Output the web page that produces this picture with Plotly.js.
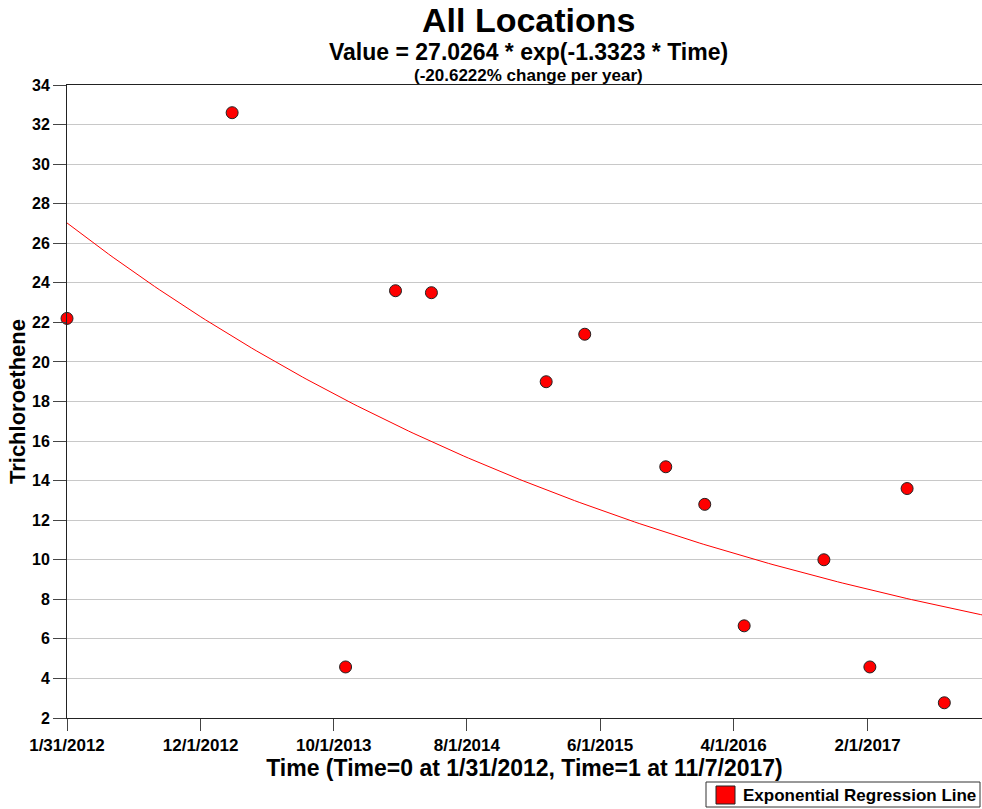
<!DOCTYPE html>
<html>
<head>
<meta charset="utf-8">
<script src="https://cdn.plot.ly/plotly-3.0.1.min.js"></script>
<style>
  html, body { margin: 0; padding: 0; background: #fff; }
  #chart { width: 982px; height: 809px; }
</style>
</head>
<body>
<div id="chart"></div>
<script>
// Sample dates and Trichloroethene results
const sampleDates = [
  '2012-01-31', '2013-02-11', '2013-10-28', '2014-02-19', '2014-05-12',
  '2015-01-29', '2015-04-27', '2015-10-29', '2016-01-26', '2016-04-25',
  '2016-10-24', '2017-02-06', '2017-05-02', '2017-07-26'
];
const sampleValues = [
  22.2, 32.6, 4.58, 23.6, 23.5,
  19.0, 21.4, 14.7, 12.8, 6.66,
  10.0, 4.58, 13.6, 2.77
];

// Regression model: Value = A * exp(B * Time), Time in [0,1]
const timeStart = '2012-01-31';
const timeEnd = '2017-11-07';
const coefA = 27.0264;
const coefB = -1.3323;

// Axis ticks
const xTickDates = ['2012-01-31', '2012-12-01', '2013-10-01', '2014-08-01', '2015-06-01', '2016-04-01', '2017-02-01'];
const xTickLabels = ['1/31/2012', '12/1/2012', '10/1/2013', '8/1/2014', '6/1/2015', '4/1/2016', '2/1/2017'];
const yTickValues = [2, 4, 6, 8, 10, 12, 14, 16, 18, 20, 22, 24, 26, 28, 30, 32, 34];

const legendLabel = 'Exponential Regression Line';

// Regression curve sampled over the Time span
const t0 = Date.parse(timeStart + 'T00:00:00Z');
const t1 = Date.parse(timeEnd + 'T00:00:00Z');
const curveX = [];
const curveY = [];
const steps = 200;
for (let i = 0; i <= steps; i++) {
  const t = i / steps;
  const iso = new Date(t0 + t * (t1 - t0)).toISOString();
  curveX.push(iso.slice(0, 10) + ' ' + iso.slice(11, 19));
  curveY.push(coefA * Math.exp(coefB * t));
}

const FONT = 'Liberation Sans, Arial, sans-serif';

// plot-area geometry (pixels) used to place the legend box below the axes
const W = 982, H = 809;
const M = { l: 67, r: 0, t: 85, b: 91 };
const plotW = W - M.l - M.r;
const plotH = H - M.t - M.b;
const px = v => (v - M.l) / plotW;
const py = v => (H - M.b - v) / plotH;

const traces = [
  {
    x: curveX, y: curveY, type: 'scatter', mode: 'lines',
    line: { color: '#ff0000', width: 1 },
    showlegend: false, hoverinfo: 'skip'
  },
  {
    x: sampleDates, y: sampleValues, type: 'scatter', mode: 'markers',
    marker: { color: '#ff0000', size: 12, line: { color: '#222', width: 1 } },
    showlegend: false, cliponaxis: false
  }
];

const layout = {
  width: W, height: H,
  margin: { l: M.l, r: M.r, t: M.t, b: M.b, autoexpand: false },
  paper_bgcolor: '#fff', plot_bgcolor: '#fff',
  font: { family: FONT, color: '#000' },
  showlegend: false,
  xaxis: {
    type: 'date',
    range: ['2012-01-31', '2017-10-20'],
    tickvals: xTickDates, ticktext: xTickLabels,
    tickfont: { family: FONT, size: 17, weight: 'bold' },
    ticks: 'outside', ticklen: 12, tickcolor: '#444', tickwidth: 1,
    showgrid: false, zeroline: false,
    showline: true, linecolor: '#222', linewidth: 1, mirror: true,
    title: { text: 'Time (Time=0 at 1/31/2012, Time=1 at 11/7/2017)', font: { family: FONT, size: 23, weight: 'bold' }, standoff: 1 }
  },
  yaxis: {
    range: [2, 34],
    tickvals: yTickValues,
    tickfont: { family: FONT, size: 16, weight: 'bold' },
    ticks: 'outside', ticklen: 13, tickcolor: '#444', tickwidth: 1,
    showgrid: true, gridcolor: '#c8c8c8', gridwidth: 1,
    zeroline: false,
    showline: true, linecolor: '#222', linewidth: 1,
    title: { text: 'Trichloroethene', font: { family: FONT, size: 22, weight: 'bold' }, standoff: 0 }
  },
  shapes: [
    // legend frame
    { type: 'rect', xref: 'paper', yref: 'paper', x0: px(706), x1: px(980), y0: py(782), y1: py(807),
      line: { color: '#333', width: 1 }, fillcolor: '#fff' },
    // legend swatch
    { type: 'rect', xref: 'paper', yref: 'paper', x0: px(716), x1: px(735), y0: py(786), y1: py(804),
      line: { color: '#222', width: 1 }, fillcolor: '#ff0000' }
  ],
  annotations: [
    { text: 'All Locations', xref: 'paper', yref: 'paper', x: 0.504, y: 1, yshift: 65, yanchor: 'middle', showarrow: false,
      font: { family: FONT, size: 34, weight: 'bold' } },
    { text: 'Value = 27.0264 * exp(-1.3323 * Time)', xref: 'paper', yref: 'paper', x: 0.504, y: 1, yshift: 33, yanchor: 'middle', showarrow: false,
      font: { family: FONT, size: 23, weight: 'bold' } },
    { text: '(-20.6222% change per year)', xref: 'paper', yref: 'paper', x: 0.504, y: 1, yshift: 10, yanchor: 'middle', showarrow: false,
      font: { family: FONT, size: 17, weight: 'bold' } },
    { text: legendLabel, xref: 'paper', yref: 'paper', x: px(741), y: py(795), xanchor: 'left', yanchor: 'middle', showarrow: false,
      font: { family: FONT, size: 17, weight: 'bold' } }
  ]
};

Plotly.newPlot('chart', traces, layout, { displayModeBar: false, staticPlot: true });
</script>
</body>
</html>
